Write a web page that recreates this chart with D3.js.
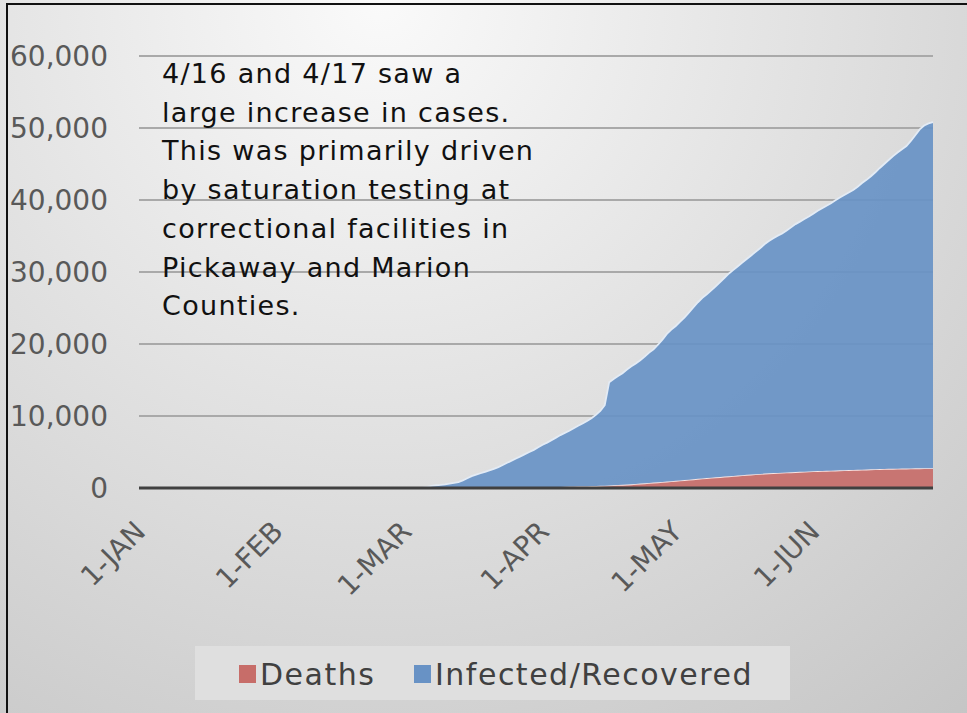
<!DOCTYPE html>
<html>
<head>
<meta charset="utf-8">
<script src="https://cdn.jsdelivr.net/npm/d3@7"></script>
<style>
  body { margin: 0; background: #fff; }
  svg text { font-family: "DejaVu Sans", sans-serif; }
</style>
</head>
<body>
<div id="chart"></div>
<script>
// ### Data ###################################################################
// one value per day, 1-Mar-2020 .. 28-Jun-2020
var dates = d3.timeDay.range(new Date(2020, 2, 1), new Date(2020, 5, 29));

var deaths = [
  0, 0, 0, 0, 0, 0, 0, 0, 0, 0,
  0, 0, 0, 0, 0, 0, 0, 0, 0, 0,
  5, 8, 10, 15, 20, 25, 30, 40, 50, 55,
  65, 80, 90, 100, 120, 140, 165, 195, 215, 230,
  250, 255, 265, 280, 300, 325, 360, 390, 420, 450,
  470, 510, 560, 610, 660, 710, 750, 800, 850, 900,
  950, 1000, 1050, 1100, 1150, 1210, 1270, 1330, 1380, 1430,
  1480, 1530, 1580, 1630, 1680, 1720, 1780, 1830, 1870, 1920,
  1960, 2000, 2040, 2070, 2100, 2130, 2160, 2190, 2220, 2250,
  2270, 2300, 2330, 2350, 2370, 2390, 2410, 2430, 2450, 2470,
  2490, 2510, 2530, 2550, 2570, 2590, 2610, 2630, 2650, 2660,
  2675, 2690, 2700, 2710, 2720, 2730, 2740, 2750, 2755, 2760
];

var infected = [
  0, 0, 0, 0, 50, 150, 300, 380, 430, 500,
  600, 700, 830, 1050, 1350, 1650, 1850, 2050, 2250, 2450,
  2645, 2892, 3190, 3485, 3780, 4075, 4370, 4660, 4950, 5245,
  5585, 5920, 6210, 6550, 6880, 7210, 7485, 7755, 8085, 8420,
  8700, 9045, 9435, 9870, 10400, 11175, 14340, 14760, 15130, 15500,
  15980, 16390, 16740, 17140, 17590, 18090, 18500, 19100, 19750, 20500,
  21050, 21500, 22050, 22600, 23250, 23890, 24530, 25070, 25520, 26020,
  26520, 27070, 27620, 28170, 28620, 29080, 29520, 29970, 30430, 30880,
  31340, 31850, 32260, 32630, 32950, 33220, 33590, 34010, 34430, 34750,
  35080, 35400, 35770, 36150, 36480, 36810, 37140, 37520, 37900, 38230,
  38560, 38890, 39320, 39800, 40230, 40710, 41240, 41820, 42350, 42890,
  43425, 43910, 44350, 44790, 45480, 46270, 47060, 47600, 47895, 48040
];

var yTicks = [0, 10000, 20000, 30000, 40000, 50000, 60000];
var xTickDates = [new Date(2020, 0, 1), new Date(2020, 1, 1), new Date(2020, 2, 1),
                  new Date(2020, 3, 1), new Date(2020, 4, 1), new Date(2020, 5, 1)];
var xTickLabels = ["1-JAN", "1-FEB", "1-MAR", "1-APR", "1-MAY", "1-JUN"];
var seriesNames = ["Deaths", "Infected/Recovered"];
var seriesColors = ["#c76d69", "#6892c5"];
var noteLines = [
  "4/16 and 4/17 saw a",
  "large increase in cases.",
  "This was primarily driven",
  "by saturation testing at",
  "correctional facilities in",
  "Pickaway and Marion",
  "Counties."
];

// ### Layout #################################################################
var W = 967, H = 713;
var plot = {left: 139, right: 933, top: 56, bottom: 488};

var svg = d3.select("#chart").append("svg")
    .attr("width", W)
    .attr("height", H);

var defs = svg.append("defs");
var bg = defs.append("radialGradient")
    .attr("id", "bg")
    .attr("gradientUnits", "userSpaceOnUse")
    .attr("cx", 380).attr("cy", 0).attr("r", 950);
bg.append("stop").attr("offset", "0%").attr("stop-color", "#fafafa");
bg.append("stop").attr("offset", "100%").attr("stop-color", "#c4c4c4");

svg.append("rect")
    .attr("width", W).attr("height", H)
    .attr("fill", "url(#bg)");

// slide frame
svg.append("rect")
    .attr("x", 7).attr("y", 4)
    .attr("width", W + 20).attr("height", H + 20)
    .attr("fill", "none")
    .attr("stroke", "#111")
    .attr("stroke-width", 2);

// ### Scales #################################################################
var x = d3.scaleTime()
    .domain([new Date(2020, 0, 1), new Date(2020, 5, 28)])
    .range([plot.left, plot.right]);

var y = d3.scaleLinear()
    .domain([0, 60000])
    .range([plot.bottom, plot.top]);

// gridlines
svg.append("g")
    .selectAll("line")
    .data(yTicks.filter(function(d) { return d > 0; }))
    .enter().append("line")
    .attr("x1", plot.left).attr("x2", plot.right)
    .attr("y1", function(d) { return y(d); })
    .attr("y2", function(d) { return y(d); })
    .attr("stroke", "#a9a9a9")
    .attr("stroke-width", 2);

// y labels
svg.append("g")
    .selectAll("text")
    .data(yTicks)
    .enter().append("text")
    .attr("x", 108)
    .attr("y", function(d) { return y(d); })
    .attr("dy", "0.36em")
    .attr("text-anchor", "end")
    .attr("fill", "#595959")
    .style("font-size", "28px")
    .text(function(d) { return d3.format(",")(d); });

// ### Stacked areas ##########################################################
var rows = dates.map(function(d, i) {
  return {date: d, deaths: deaths[i], infected: infected[i]};
});

var stack = d3.stack().keys(["deaths", "infected"]);
var layers = stack(rows);

var area = d3.area()
    .x(function(d) { return x(d.data.date); })
    .y0(function(d) { return y(d[0]); })
    .y1(function(d) { return y(d[1]); });

var topLine = d3.line()
    .x(function(d) { return x(d.data.date); })
    .y(function(d) { return y(d[1]); });

var series = svg.append("g").selectAll("g")
    .data(layers)
    .enter().append("g");

series.append("path")
    .attr("d", area)
    .attr("fill", function(d, i) { return seriesColors[i]; })
    .attr("fill-opacity", 0.92);

series.append("path")
    .attr("d", topLine)
    .attr("fill", "none")
    .attr("stroke", function(d, i) { return i === 0 ? "#f6e4e3" : "#e3ebf5"; })
    .attr("stroke-width", 1.8);

// zero axis line
svg.append("line")
    .attr("x1", plot.left).attr("x2", plot.right)
    .attr("y1", y(0)).attr("y2", y(0))
    .attr("stroke", "#404040")
    .attr("stroke-width", 3);

// x labels
svg.append("g")
    .selectAll("text")
    .data(xTickDates)
    .enter().append("text")
    .attr("transform", function(d) { return "translate(" + (x(d) + 1) + ",526) rotate(-45)"; })
    .attr("dy", "0.36em")
    .attr("text-anchor", "end")
    .attr("fill", "#595959")
    .style("font-size", "28px")
    .text(function(d, i) { return xTickLabels[i]; });

// ### Annotation #############################################################
svg.append("g")
    .selectAll("text")
    .data(noteLines)
    .enter().append("text")
    .attr("x", 162)
    .attr("y", function(d, i) { return 83 + i * 38.7; })
    .attr("fill", "#111")
    .style("font-size", "27px")
    .style("letter-spacing", "1.3px")
    .text(function(d) { return d; });

// ### Legend #################################################################
var legend = svg.append("g");
legend.append("rect")
    .attr("x", 195).attr("y", 646)
    .attr("width", 595).attr("height", 54)
    .attr("fill", "#dfdfdf");

var legendX = [239, 414];
var item = legend.selectAll("g")
    .data(seriesNames)
    .enter().append("g")
    .attr("transform", function(d, i) { return "translate(" + legendX[i] + ",0)"; });

item.append("rect")
    .attr("y", 665)
    .attr("width", 17).attr("height", 18)
    .attr("fill", function(d, i) { return seriesColors[i]; });

item.append("text")
    .attr("x", 21)
    .attr("y", 685)
    .attr("fill", "#404040")
    .style("font-size", "30px")
    .style("letter-spacing", "1.5px")
    .text(function(d) { return d; });
</script>
</body>
</html>
